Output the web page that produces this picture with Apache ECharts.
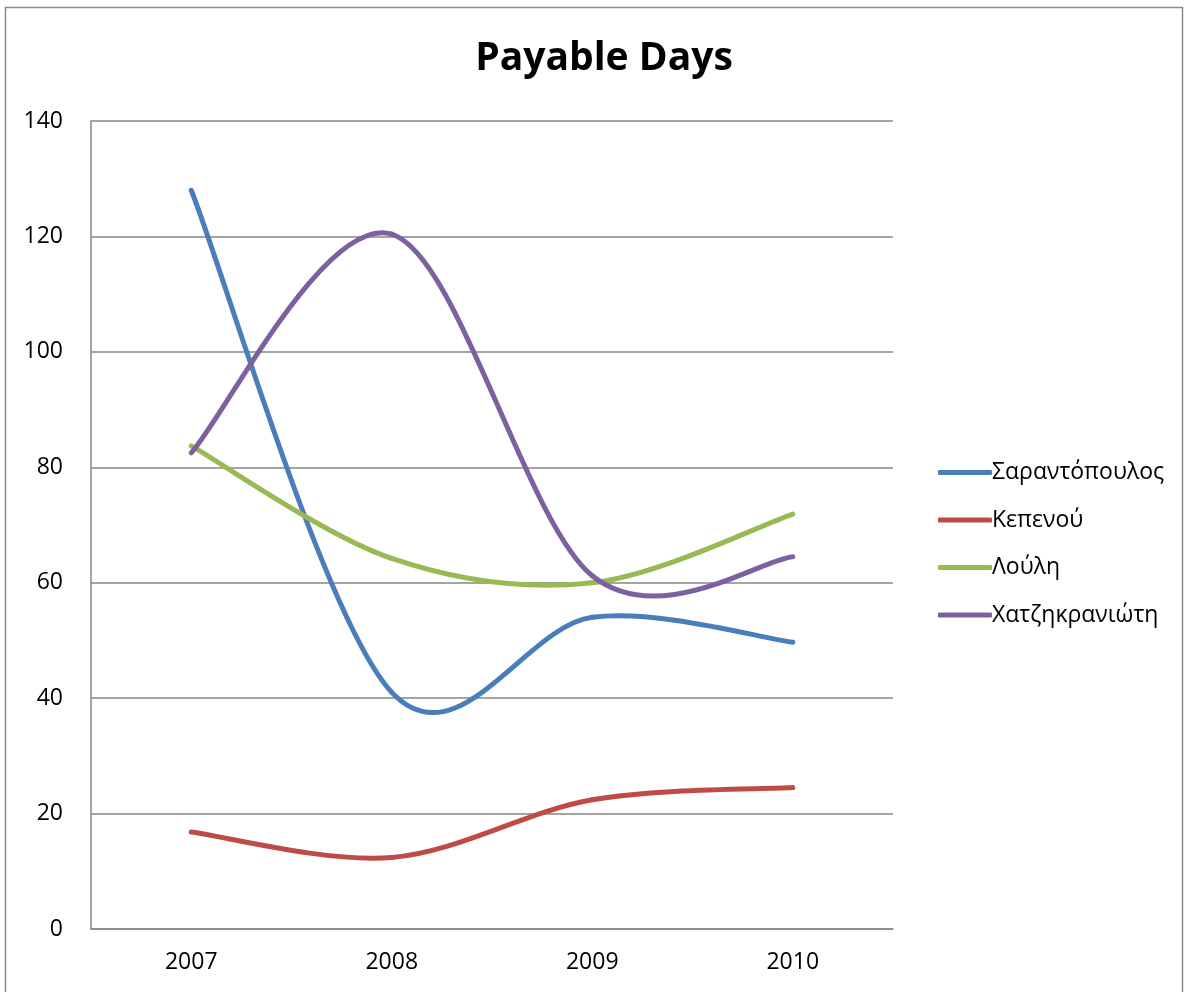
<!DOCTYPE html>
<html>
<head>
<meta charset="utf-8">
<script src="https://cdn.jsdelivr.net/npm/echarts@6/dist/echarts.min.js"></script>
<style>
  html, body { margin: 0; padding: 0; background: #fff; }
  #chart { width: 1189px; height: 992px; }
</style>
</head>
<body>
<div id="chart"></div>
<script>
// Payable days per person, 2007–2010
const years = ['2007', '2008', '2009', '2010'];
const sarantopoulos = [128, 41, 54, 49.7];
const kepenou = [16.8, 12.4, 22.4, 24.5];
const louli = [83.7, 64.2, 60.0, 71.9];
const chatzikranioti = [82.5, 120.4, 61.2, 64.5];
const yTicks = [0, 20, 40, 60, 80, 100, 120, 140];

const seriesDefs = [
  { name: 'Σαραντόπουλος', data: sarantopoulos, color: '#4a7ebb' },
  { name: 'Κεπενού', data: kepenou, color: '#be4b48' },
  { name: 'Λούλη', data: louli, color: '#98b954' },
  { name: 'Χατζηκρανιώτη', data: chatzikranioti, color: '#7d60a0' }
];

const font = '"Open Sans", "Noto Sans", sans-serif';

// Smoothed line as Catmull-Rom cubic Bezier segments (endpoints duplicated),
// with every point converted through the chart's own axes.
function smoothLineRenderer(values, color) {
  return function (params, api) {
    if (params.dataIndex !== 0) return null;
    const pts = values.map((v, i) => api.coord([i, v]));
    const n = pts.length;
    const children = [];
    for (let i = 0; i < n - 1; i++) {
      const p0 = pts[Math.max(i - 1, 0)];
      const p1 = pts[i];
      const p2 = pts[i + 1];
      const p3 = pts[Math.min(i + 2, n - 1)];
      children.push({
        type: 'bezierCurve',
        shape: {
          x1: p1[0], y1: p1[1],
          cpx1: p1[0] + (p2[0] - p0[0]) / 6,
          cpy1: p1[1] + (p2[1] - p0[1]) / 6,
          cpx2: p2[0] - (p3[0] - p1[0]) / 6,
          cpy2: p2[1] - (p3[1] - p1[1]) / 6,
          x2: p2[0], y2: p2[1]
        },
        style: { stroke: color, lineWidth: 5, fill: null, lineCap: 'round' },
        silent: true
      });
    }
    return { type: 'group', children };
  };
}

const chart = echarts.init(document.getElementById('chart'));

chart.setOption({
  animation: false,
  backgroundColor: '#fff',
  textStyle: { fontFamily: font },
  graphic: [{
    type: 'rect',
    shape: { x: 5.5, y: 7.5, width: 1177, height: 1000 },
    style: { fill: 'none', stroke: '#8c8c8c', lineWidth: 1.5 },
    silent: true
  }],
  title: {
    text: 'Payable Days',
    left: 599,
    textAlign: 'center',
    top: 34,
    textStyle: { fontFamily: font, fontWeight: 'bold', fontSize: 39, color: '#000' }
  },
  legend: {
    orient: 'vertical',
    left: 933,
    top: 456,
    itemWidth: 54,
    itemHeight: 5,
    itemGap: 24.5,
    icon: 'roundRect',
    textStyle: { fontFamily: font, fontSize: 23, color: '#000', padding: [0, 0, 0, -5] },
    data: seriesDefs.map(s => s.name)
  },
  grid: { left: 91, right: 296, top: 121, bottom: 63, containLabel: false },
  xAxis: {
    type: 'category',
    data: years,
    boundaryGap: true,
    axisLine: { lineStyle: { color: '#868686', width: 1.5 } },
    axisTick: { show: false },
    axisLabel: { fontFamily: font, fontSize: 23, color: '#000', margin: 22 }
  },
  yAxis: {
    type: 'value',
    min: yTicks[0],
    max: yTicks[yTicks.length - 1],
    interval: 20,
    axisLine: { show: true, lineStyle: { color: '#868686', width: 1.5 } },
    axisTick: { show: false },
    axisLabel: { fontFamily: font, fontSize: 23, color: '#000', margin: 28 },
    splitLine: { lineStyle: { color: '#868686', width: 1.5 } }
  },
  series: seriesDefs.map(s => ({
    name: s.name,
    type: 'custom',
    coordinateSystem: 'cartesian2d',
    data: s.data.map((v, i) => [i, v]),
    encode: { x: 0, y: 1 },
    itemStyle: { color: s.color },
    clip: false,
    renderItem: smoothLineRenderer(s.data, s.color)
  }))
});
</script>
</body>
</html>
